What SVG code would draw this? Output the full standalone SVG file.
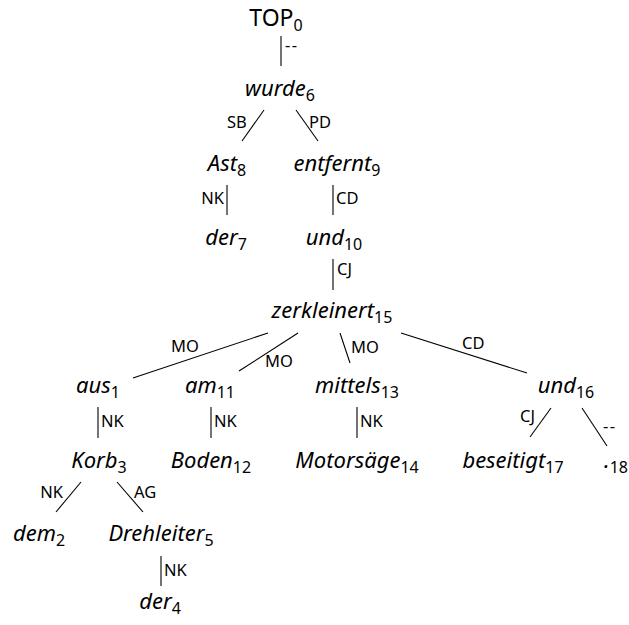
<svg xmlns="http://www.w3.org/2000/svg" width="629" height="625" viewBox="0 0 629 625">
<style>
.n{font-family:"Noto Sans","Open Sans",sans-serif;font-style:italic;font-size:22px;fill:#000;text-anchor:middle}
.top{font-family:"Noto Sans","Open Sans",sans-serif;font-size:23px;fill:#000;text-anchor:middle}
.s{font-size:16px;font-style:normal}
.l{font-family:"Noto Sans","Open Sans",sans-serif;font-size:16.5px;fill:#000}
.d{letter-spacing:1.5px}
.e{text-anchor:end}
line{stroke:#000;stroke-width:1.1}
</style>
<rect width="629" height="625" fill="#fff"/>
<g id="connectors">
<line x1="281" y1="36" x2="281" y2="66"/><text class="l d" x="285" y="51">--</text>
<line x1="264" y1="110" x2="242" y2="141"/><text class="l" x="227" y="128">SB</text>
<line x1="296" y1="110" x2="318" y2="141"/><text class="l" x="309" y="128">PD</text>
<line x1="227" y1="185" x2="227" y2="215"/><text class="l e" x="224" y="204">NK</text>
<line x1="333" y1="185" x2="333" y2="215"/><text class="l" x="336" y="204">CD</text>
<line x1="333" y1="259" x2="333" y2="290"/><text class="l" x="337" y="275">CJ</text>
<line x1="268" y1="333" x2="133" y2="378"/><text class="l" x="171" y="352">MO</text>
<line x1="298" y1="333" x2="239" y2="371"/><text class="l" x="265" y="367">MO</text>
<line x1="340" y1="333" x2="350" y2="363"/><text class="l" x="351" y="353">MO</text>
<line x1="401" y1="333" x2="527" y2="373"/><text class="l" x="462" y="349">CD</text>
<line x1="98" y1="407" x2="98" y2="438"/><text class="l" x="101" y="427">NK</text>
<line x1="211" y1="407" x2="211" y2="438"/><text class="l" x="214" y="427">NK</text>
<line x1="357" y1="407" x2="357" y2="438"/><text class="l" x="360" y="427">NK</text>
<line x1="551" y1="408" x2="530" y2="437"/><text class="l e" x="535" y="422">CJ</text>
<line x1="582" y1="408" x2="607" y2="446"/><text class="l d" x="603" y="432">--</text>
<line x1="81" y1="482" x2="56" y2="512"/><text class="l e" x="63" y="498">NK</text>
<line x1="117" y1="482" x2="143" y2="512"/><text class="l" x="134" y="498">AG</text>
<line x1="161" y1="556" x2="161" y2="586"/><text class="l" x="164" y="576">NK</text>
</g>
<g id="n0"><text class="top" x="276" y="26">TOP<tspan class="s" dy="5">0</tspan></text></g>
<g id="n6"><text class="n" x="280" y="96">wurde<tspan class="s" dy="5">6</tspan></text></g>
<g id="n8"><text class="n" x="227" y="171">Ast<tspan class="s" dy="5">8</tspan></text></g>
<g id="n9"><text class="n" x="337" y="171">entfernt<tspan class="s" dy="5">9</tspan></text></g>
<g id="n7"><text class="n" x="226" y="245">der<tspan class="s" dy="5">7</tspan></text></g>
<g id="n10"><text class="n" x="334" y="245">und<tspan class="s" dy="5">10</tspan></text></g>
<g id="n15"><text class="n" x="332" y="318">zerkleinert<tspan class="s" dy="5">15</tspan></text></g>
<g id="n1"><text class="n" x="98" y="393">aus<tspan class="s" dy="5">1</tspan></text></g>
<g id="n11"><text class="n" x="210" y="393">am<tspan class="s" dy="5">11</tspan></text></g>
<g id="n13"><text class="n" x="357" y="393">mittels<tspan class="s" dy="5">13</tspan></text></g>
<g id="n16"><text class="n" x="566" y="393">und<tspan class="s" dy="5">16</tspan></text></g>
<g id="n3"><text class="n" x="99" y="468">Korb<tspan class="s" dy="5">3</tspan></text></g>
<g id="n12"><text class="n" x="211" y="468">Boden<tspan class="s" dy="5">12</tspan></text></g>
<g id="n14"><text class="n" x="357" y="468">Motorsäge<tspan class="s" dy="5">14</tspan></text></g>
<g id="n17"><text class="n" x="513" y="468">beseitigt<tspan class="s" dy="5">17</tspan></text></g>
<g id="n18"><text class="n" x="604" y="468" style="text-anchor:start">.<tspan class="s" dy="5">18</tspan></text></g>
<g id="n2"><text class="n" x="39" y="541">dem<tspan class="s" dy="5">2</tspan></text></g>
<g id="n5"><text class="n" x="161" y="541">Drehleiter<tspan class="s" dy="5">5</tspan></text></g>
<g id="n4"><text class="n" x="160" y="609">der<tspan class="s" dy="5">4</tspan></text></g>
</svg>
